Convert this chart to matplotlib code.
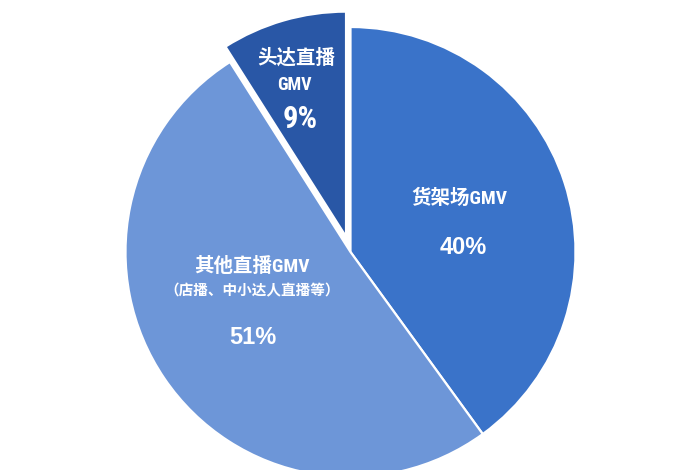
import matplotlib
matplotlib.use("Agg")
import matplotlib.pyplot as plt
from matplotlib import font_manager as fm

# GMV share by channel
channels = ["货架场", "其他直播", "头达直播"]
shares = [40, 51, 9]
note = "（店播、中小达人直播等）"

colors = ["#3A73C9", "#6D96D8", "#2957A6"]
explode = [0, 0, 16]

# pick a condensed Latin face if one is available
fonts = fm.fontManager.ttflist
names = {f.name for f in fonts}
narrow, stretch = "Liberation Sans", "normal"
for cand in ["Liberation Sans Narrow", "Roboto Condensed", "Open Sans Condensed"]:
    if cand in names:
        narrow = cand
        break
else:
    if any(f.name == "DejaVu Sans" and f.stretch in ("condensed", "semi-condensed") for f in fonts):
        narrow, stretch = "DejaVu Sans", "condensed"
cjk = "Noto Sans CJK SC"
mixed = [narrow, cjk]

W, H = 700, 470
fig = plt.figure(figsize=(W / 100, H / 100), dpi=100)
ax = fig.add_axes([0, 0, 1, 1])

cx, cy, r = 350.5, H - 252, 225
ax.pie(shares, colors=colors, explode=explode, startangle=90, counterclock=False,
       center=(cx, cy), radius=r,
       wedgeprops=dict(edgecolor="white", linewidth=1.6))
ax.set_xlim(0, W)
ax.set_ylim(0, H)
ax.set_aspect("equal")
ax.axis("off")


def put(x, y, s, size, family, st="normal"):
    ax.text(x, H - y, s, ha="center", va="center", color="white",
            fontsize=size, family=family, fontweight="bold", fontstretch=st)


# 货架场
put(459, 198, channels[0] + "GMV", 14, mixed, stretch)
put(463, 248, f"{shares[0]}%", 17, ["Liberation Sans"])

# 其他直播
put(252, 267, channels[1] + "GMV", 14, mixed, stretch)
put(252, 290, note, 10.5, [cjk])
put(253, 338, f"{shares[1]}%", 17, ["Liberation Sans"])

# 头达直播
put(296, 58, channels[2], 14, [cjk])
put(294, 85, "GMV", 13, [narrow], stretch)
put(300, 119, f"{shares[2]}%", 22, [narrow], stretch)

fig.savefig("out.png", dpi=100, facecolor="white")
